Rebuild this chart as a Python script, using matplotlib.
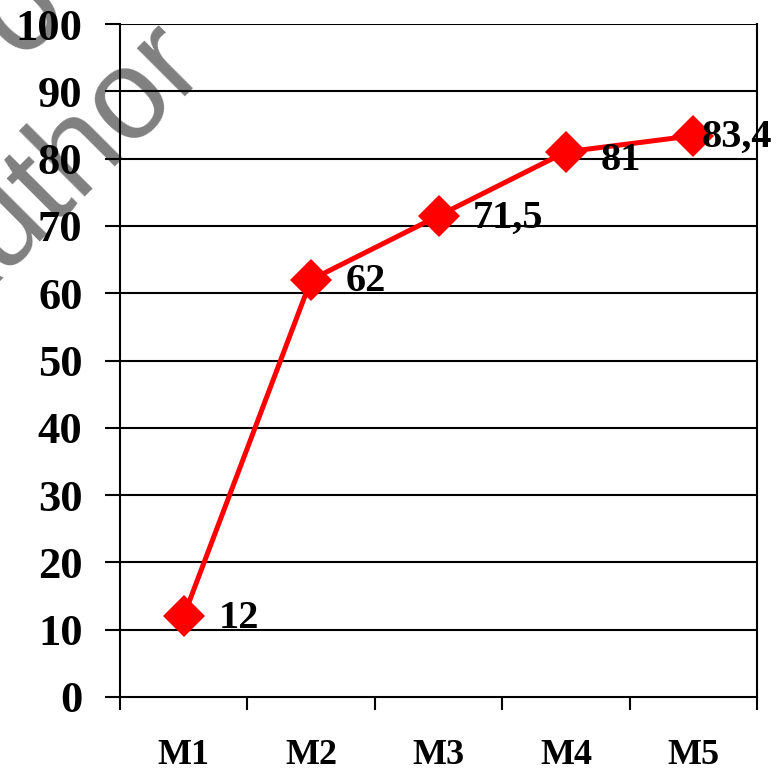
import matplotlib
matplotlib.use("Agg")
import matplotlib.pyplot as plt

categories = ["M1", "M2", "M3", "M4", "M5"]
values = [12, 62, 71.5, 81, 83.4]
value_labels = ["12", "62", "71,5", "81", "83,4"]
yticks = [0, 10, 20, 30, 40, 50, 60, 70, 80, 90, 100]

serif = ["Liberation Serif", "DejaVu Serif"]
sans = ["Liberation Sans", "DejaVu Sans"]

fig = plt.figure(figsize=(7.78, 7.72), dpi=100)
ax = fig.add_axes([120/778, 1-697/772, (757-120)/778, (697-24)/772])
ax.set_facecolor("none")

# watermark (drawn behind the axes)
fig.text(-0.072, 0.5635, "Author", rotation=45, fontsize=92, color="#808080",
         family=sans, zorder=-5, ha="left", va="baseline", rotation_mode="anchor")
fig.text(0.0261, 0.9214, "o", rotation=45, fontsize=92, color="#808080",
         family=sans, zorder=-5, ha="left", va="baseline", rotation_mode="anchor")

x = list(range(len(categories)))
ax.set_xlim(-0.5, len(categories) - 0.5)
ax.set_ylim(0, 100)

for yv in yticks[1:]:
    ax.axhline(yv, color="black", lw=1.5, zorder=1)

ax.plot(x, values, color="#ff0000", lw=3.6, marker="D", markersize=21,
        markeredgewidth=0, zorder=3, clip_on=False)

offsets = [(25, -1.5), (25, -1.5), (25, -1.5), (25, -6), (6, -1.5)]
for xi, v, lab, off in zip(x, values, value_labels, offsets):
    ax.annotate(lab, (xi, v), xytext=off, textcoords="offset points",
                ha="left", va="center", fontsize=29, fontweight="bold",
                family=serif, zorder=4)

ax.set_yticks(yticks)
ax.set_yticklabels([str(t) for t in yticks], fontsize=32, fontweight="bold", family=serif)
ax.tick_params(axis="y", length=11, width=1.5, pad=16, direction="out")

ax.set_xticks(x)
ax.set_xticklabels(categories, fontsize=26, fontweight="bold", family=serif)
ax.set_xticks([i + 0.5 for i in range(-1, len(categories))], minor=True)
ax.tick_params(axis="x", which="major", length=0, pad=30)
ax.tick_params(axis="x", which="minor", length=9, width=1.5, direction="out")

for s in ["left", "bottom", "right"]:
    ax.spines[s].set_linewidth(1.5)
ax.spines["top"].set_visible(False)

fig.savefig("out.png", dpi=100)
